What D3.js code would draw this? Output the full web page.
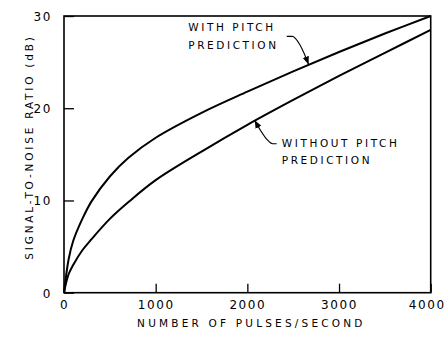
<!DOCTYPE html>
<html>
<head>
<meta charset="utf-8">
<script src="https://cdn.jsdelivr.net/npm/d3@7"></script>
<style>
  body { margin: 0; background: #fff; }
  svg { display: block; }
  text { font-family: "DejaVu Sans", sans-serif; fill: #000; }
</style>
</head>
<body>
<svg id="chart" width="448" height="337"></svg>
<script>
// pulses per second along the x axis
const pulseRate = [0, 50, 100, 200, 300, 500, 700, 1000, 1500, 2000, 2500, 3000, 3500, 4000];
// SNR (dB)
const withPitch = [0, 3.6, 5.6, 8.0, 9.9, 12.6, 14.6, 16.8, 19.5, 21.8, 24.0, 26.1, 28.1, 30.0];
const withoutPitch = [0, 2.0, 3.0, 4.6, 5.8, 8.0, 9.8, 12.2, 15.3, 18.2, 20.9, 23.5, 26.0, 28.5];

const xTicks = [0, 1000, 2000, 3000, 4000];
const yTicks = [0, 10, 20, 30];

const svg = d3.select("#chart");
const plotL = 64, plotT = 16, plotR = 430.7, plotB = 292.7;

const x = d3.scaleLinear().domain([0, 4000]).range([plotL, plotR]);
const y = d3.scaleLinear().domain([0, 30]).range([plotB, plotT]);

// inward ticks, labels outside
const xAxis = d3.axisBottom(x).tickValues(xTicks).tickFormat(d3.format("d"))
  .tickSizeInner(-9).tickSizeOuter(0).tickPadding(8);
const yAxis = d3.axisLeft(y).tickValues(yTicks).tickFormat(d3.format("d"))
  .tickSizeInner(-10).tickSizeOuter(0).tickPadding(12);

const gx = svg.append("g").attr("transform", `translate(0,${plotB})`).call(xAxis);
const gy = svg.append("g").attr("transform", `translate(${plotL},0)`).call(yAxis);
[gx, gy].forEach(g => {
  g.select(".domain").remove();
  g.selectAll("line").attr("stroke", "#000").attr("stroke-width", 1.3);
  g.selectAll("text").attr("font-size", 12).attr("letter-spacing", "1.6px")
    .attr("font-family", "DejaVu Sans").attr("fill", "#000");
});
gy.selectAll("text").attr("dy", "0.36em");
// keep the last x label inside the page
gx.selectAll("text").filter(d => d === 4000).attr("dx", -4);

// frame
svg.append("rect")
  .attr("x", plotL).attr("y", plotT)
  .attr("width", plotR - plotL).attr("height", plotB - plotT)
  .attr("fill", "none").attr("stroke", "#000").attr("stroke-width", 1.6);

const line = d3.line()
  .x((d, i) => x(pulseRate[i]))
  .y(d => y(d))
  .curve(d3.curveCatmullRom.alpha(0.5));

[withPitch, withoutPitch].forEach(series => {
  svg.append("path")
    .datum(series)
    .attr("d", line)
    .attr("fill", "none")
    .attr("stroke", "#000")
    .attr("stroke-width", 2);
});

// arrow marker for leaders
svg.append("defs").append("marker")
  .attr("id", "arrow")
  .attr("viewBox", "0 0 10 10")
  .attr("refX", 10).attr("refY", 5)
  .attr("markerWidth", 8).attr("markerHeight", 8)
  .attr("markerUnits", "userSpaceOnUse")
  .attr("orient", "auto")
  .append("path").attr("d", "M0,1 L10,5 L0,9 Z").attr("fill", "#000");

// annotation text and leaders, anchored in data units
const notes = [
  { lines: ["WITH PITCH", "PREDICTION"], tx: 1355, ty: 28.35,
    leader: [[2430, 27.8], [2490, 27.8], [2560, 27.6], [2668, 24.75]] },
  { lines: ["WITHOUT PITCH", "PREDICTION"], tx: 2375, ty: 15.8,
    leader: [[2320, 16.15], [2275, 16.15], [2210, 16.3], [2080, 18.7]] }
];

notes.forEach(n => {
  const t = svg.append("text")
    .attr("x", x(n.tx)).attr("y", y(n.ty))
    .attr("font-size", 10.5).attr("letter-spacing", "2.6px");
  n.lines.forEach((s, i) => {
    t.append("tspan").attr("x", x(n.tx)).attr("dy", i === 0 ? 0 : 17.5).text(s);
  });
  const [p0, p1, c, p2] = n.leader.map(([a, b]) => [x(a), y(b)]);
  const p = d3.path();
  p.moveTo(...p0);
  p.lineTo(...p1);
  p.quadraticCurveTo(...c, ...p2);
  svg.append("path").attr("d", p.toString())
    .attr("fill", "none").attr("stroke", "#000").attr("stroke-width", 1.2)
    .attr("marker-end", "url(#arrow)");
});

// axis titles
svg.append("text")
  .attr("x", (plotL + plotR) / 2 + 4).attr("y", 327)
  .attr("text-anchor", "middle")
  .attr("font-size", 10.5).attr("letter-spacing", "3.2px")
  .text("NUMBER OF PULSES/SECOND");

svg.append("text")
  .attr("transform", `translate(33,147) rotate(-90)`)
  .attr("text-anchor", "middle")
  .attr("font-size", 10.5).attr("letter-spacing", "2.8px")
  .text("SIGNAL-TO-NOISE RATIO (dB)");
</script>
</body>
</html>
